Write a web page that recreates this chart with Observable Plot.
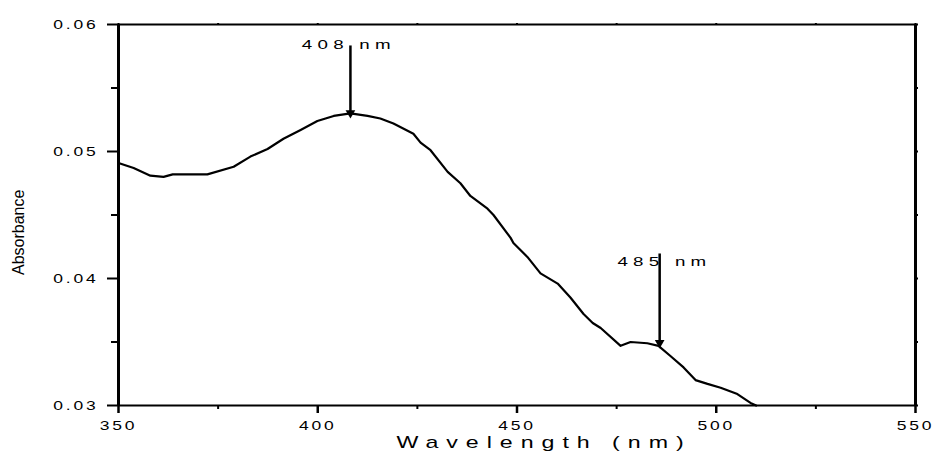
<!DOCTYPE html>
<html>
<head>
<meta charset="utf-8">
<script src="https://cdn.jsdelivr.net/npm/d3@7"></script>
<script src="https://cdn.jsdelivr.net/npm/@observablehq/plot@0.6"></script>
<style>
  body { margin: 0; background: #fff; }
  svg { display: block; }
</style>
</head>
<body>
<div id="chart"></div>
<script>
// UV-Vis absorption spectrum
const wavelength = [
  350, 353.8, 358, 361.3, 363.6, 372.3, 378.9, 383.1, 387.4, 391.4,
  395.7, 399.9, 404, 408.2, 412.5, 415.7, 419, 424, 425.8, 428.3,
  432.6, 435.8, 438.3, 442.6, 444.1, 448.4, 449.1, 452.6, 455.9, 460.2,
  463.4, 466.7, 469, 471, 476, 478.5, 482.7, 485.5, 488.5, 491.8,
  494.8, 497.8, 501.1, 505.3, 508.6, 510
];
const absorbance = [
  0.0491, 0.0487, 0.0481, 0.0480, 0.0482, 0.0482, 0.0488, 0.0496, 0.0502, 0.0510,
  0.0517, 0.0524, 0.0528, 0.0530, 0.0528, 0.0526, 0.0522, 0.0514, 0.0507, 0.0501,
  0.0484, 0.0475, 0.0465, 0.0455, 0.0450, 0.0432, 0.0428, 0.0417, 0.0404, 0.0396,
  0.0385, 0.0372, 0.0365, 0.0361, 0.0347, 0.0350, 0.0349, 0.0347, 0.0339, 0.0330,
  0.0320, 0.0317, 0.0314, 0.0309, 0.0302, 0.0300
];

// Axes
const xDomain = [350, 550];
const yDomain = [0.03, 0.06];
const xTicks = [350, 400, 450, 500, 550];
const xMinorTicks = [375, 425, 475, 525];
const yTicks = [0.03, 0.04, 0.05, 0.06];
const yMinorTicks = [0.035, 0.045, 0.055];
const xLabel = "Wavelength (nm)";
const yLabel = "Absorbance";

// Peak annotations
const peakLabels = ["408 nm", "485 nm"];
const peakLabelX = [407.8, 487.0];
const peakLabelY = [0.05835, 0.04128];
const arrowX = [408.2, 485.8];
const arrowTop = [0.05835, 0.04197];
const arrowTip = [0.0528, 0.0347];

const spectrum = wavelength.map((w, i) => ({w, a: absorbance[i]}));

const chart = Plot.plot({
  width: 933,
  height: 455,
  marginLeft: 118,
  marginRight: 18,
  marginTop: 24,
  marginBottom: 50,
  x: {domain: xDomain},
  y: {domain: yDomain},
  style: {
    fontFamily: "'Liberation Sans', Arial, sans-serif",
    fontSize: "12.5px",
    color: "#000",
    background: "#fff"
  },
  marks: [
    // minor and major ticks
    Plot.axisX({ticks: xMinorTicks, tickSize: 4, strokeWidth: 2, tickFormat: () => "", label: null}),
    Plot.axisX({ticks: xTicks, tickSize: 8, strokeWidth: 2.5, tickPadding: 8, tickFormat: d => String(d), label: null}),
    Plot.axisX({anchor: "top", ticks: [...xTicks, ...xMinorTicks], tickSize: 2, strokeWidth: 2, tickFormat: () => "", label: null}),
    Plot.axisY({ticks: yMinorTicks, tickSize: 7, strokeWidth: 2, tickFormat: () => "", label: null}),
    Plot.axisY({ticks: yTicks, tickSize: 11, strokeWidth: 2, tickPadding: 9, tickFormat: d => d.toFixed(2), label: null}),
    Plot.axisY({anchor: "right", ticks: [...yTicks, ...yMinorTicks], tickSize: 2, strokeWidth: 2, tickFormat: () => "", label: null}),
    // frame
    Plot.ruleY(yDomain, {strokeWidth: 2}),
    Plot.ruleX(xDomain, {strokeWidth: 3}),
    // spectrum
    Plot.line(spectrum, {x: "w", y: "a", stroke: "#000", strokeWidth: 2.2}),
    // peak arrows
    Plot.link(arrowX, {
      x1: d => d, x2: d => d,
      y1: (d, i) => arrowTop[i], y2: (d, i) => arrowTip[i],
      stroke: "#000", strokeWidth: 2.5
    }),
    Plot.dot(arrowX, {
      x: d => d, y: (d, i) => arrowTip[i],
      symbol: "triangle", rotate: 180, r: 3.6, dy: -3,
      fill: "#000", stroke: "none"
    }),
    Plot.text(peakLabels, {
      x: (d, i) => peakLabelX[i], y: (d, i) => peakLabelY[i],
      text: d => d, fontSize: 12.5
    }),
    // axis titles
    Plot.text([xLabel], {
      frameAnchor: "bottom", dx: 27, dy: 37, lineAnchor: "middle",
      text: d => d, fontSize: 16
    }),
    Plot.text([yLabel], {
      frameAnchor: "left", dx: -100, dy: 60, rotate: -90, lineAnchor: "middle",
      text: d => d, fontSize: 16
    })
  ]
});

// Wide, letter-spaced lettering for numerals and titles
function widen(texts, sx, spacing) {
  texts.forEach(t => {
    const tr = t.getAttribute("transform") || "";
    t.setAttribute("transform", `${tr} scale(${sx},1)`);
    t.style.letterSpacing = spacing + "px";
  });
}
const allTexts = Array.from(chart.querySelectorAll("text"));
const tickTexts = new Set([...xTicks.map(String), ...yTicks.map(d => d.toFixed(2))]);
widen(allTexts.filter(t => tickTexts.has(t.textContent)), 1.4, 2);
widen(allTexts.filter(t => peakLabels.includes(t.textContent)), 1.5, 3.5);
widen(allTexts.filter(t => t.textContent === xLabel), 1.45, 5.5);

document.getElementById("chart").appendChild(chart);
</script>
</body>
</html>
